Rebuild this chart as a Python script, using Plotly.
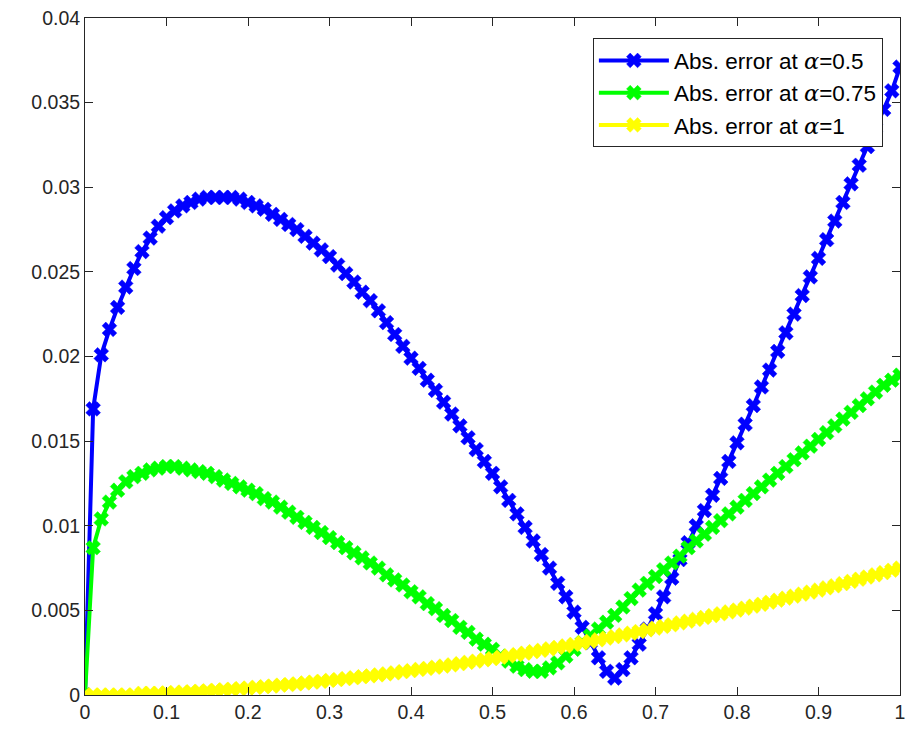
import plotly.graph_objects as go

x_vals = [round(i * 0.01, 2) for i in range(101)]

err_alpha_050 = [
    0.0, 0.0169, 0.0201, 0.0216, 0.0229, 0.0241, 0.0252, 0.0262, 0.0270, 0.0277,
    0.0282, 0.0286, 0.0289, 0.0291, 0.0293, 0.0294, 0.0294, 0.0294, 0.0294, 0.0293,
    0.0291, 0.0289, 0.0287, 0.0284, 0.0281, 0.0278, 0.0275, 0.0271, 0.0267, 0.0263,
    0.0259, 0.0254, 0.0249, 0.0244, 0.0238, 0.0233, 0.0227, 0.0220, 0.0213, 0.0206,
    0.0199, 0.0193, 0.0186, 0.0180, 0.0173, 0.0166, 0.0159, 0.0152, 0.0145, 0.0138,
    0.0131, 0.0123, 0.0115, 0.0107, 0.0099, 0.0091, 0.0083, 0.0075, 0.0066, 0.0058,
    0.0049, 0.0040, 0.0031, 0.0022, 0.0014, 0.0010, 0.0015, 0.0022, 0.0030, 0.0039,
    0.0048, 0.0058, 0.0069, 0.0080, 0.0090, 0.0100, 0.0109, 0.0118, 0.0128, 0.0138,
    0.0149, 0.0160, 0.0171, 0.0182, 0.0192, 0.0203, 0.0214, 0.0225, 0.0236, 0.0247,
    0.0258, 0.0269, 0.0280, 0.0291, 0.0302, 0.0313, 0.0324, 0.0335, 0.0346, 0.0357,
    0.0371,
]

err_alpha_075 = [
    0.0, 0.0087, 0.0104, 0.0114, 0.0121, 0.0126, 0.0129, 0.0131, 0.0133, 0.0134,
    0.0135, 0.0135, 0.0134, 0.0133, 0.0132, 0.0131, 0.0129, 0.0127, 0.0125, 0.0123,
    0.0121, 0.0119, 0.0116, 0.0114, 0.0111, 0.0108, 0.0105, 0.0102, 0.0099, 0.0096,
    0.0093, 0.0090, 0.0087, 0.0084, 0.0081, 0.0078, 0.0075, 0.0071, 0.0068, 0.0065,
    0.0061, 0.0058, 0.0054, 0.0051, 0.0047, 0.0044, 0.0040, 0.0037, 0.0033, 0.0030,
    0.0027, 0.0023, 0.0020, 0.0017, 0.0015, 0.0014, 0.0014, 0.0016, 0.0019, 0.0023,
    0.0027, 0.0031, 0.0035, 0.0039, 0.0043, 0.0047, 0.0052, 0.0057, 0.0062, 0.0066,
    0.0070, 0.0074, 0.0078, 0.0082, 0.0087, 0.0091, 0.0095, 0.0099, 0.0103, 0.0107,
    0.0111, 0.0115, 0.0119, 0.0123, 0.0127, 0.0131, 0.0135, 0.0139, 0.0143, 0.0147,
    0.0151, 0.0155, 0.0159, 0.0163, 0.0167, 0.0171, 0.0175, 0.0179, 0.0183, 0.0186,
    0.0189,
]

err_alpha_100 = [
    0.0, 0.0000, 0.0000, 0.0000, 0.0000, 0.0000, 0.0000, 0.0001, 0.0001, 0.0001,
    0.00012, 0.00014, 0.00017, 0.00019, 0.00022, 0.00025, 0.00028, 0.00031, 0.00034, 0.00038,
    0.00041, 0.00045, 0.00049, 0.00053, 0.00058, 0.00062, 0.00066, 0.00071, 0.00076, 0.00081,
    0.00086, 0.00091, 0.00097, 0.00102, 0.00108, 0.00113, 0.00119, 0.00125, 0.00131, 0.00138,
    0.00144, 0.00151, 0.00157, 0.00164, 0.00171, 0.00178, 0.00185, 0.00193, 0.00200, 0.00208,
    0.00215, 0.00223, 0.00231, 0.00239, 0.00247, 0.00256, 0.00264, 0.00273, 0.00281, 0.00290,
    0.00299, 0.00308, 0.00317, 0.00326, 0.00336, 0.00345, 0.00355, 0.00365, 0.00375, 0.00385,
    0.00395, 0.00405, 0.00415, 0.00426, 0.00436, 0.00447, 0.00458, 0.00469, 0.00480, 0.00491,
    0.00502, 0.00513, 0.00525, 0.00536, 0.00548, 0.00560, 0.00572, 0.00584, 0.00596, 0.00608,
    0.00620, 0.00633, 0.00645, 0.00658, 0.00671, 0.00684, 0.00697, 0.00710, 0.00723, 0.00737,
    0.0075,
]

series_names = [
    "Abs. error at <span style='font-family:DejaVu Serif'><i>α</i></span>=0.5",
    "Abs. error at <span style='font-family:DejaVu Serif'><i>α</i></span>=0.75",
    "Abs. error at <span style='font-family:DejaVu Serif'><i>α</i></span>=1",
]
series_colors = ["#0000FF", "#00FF00", "#FFFF00"]
series_values = [err_alpha_050, err_alpha_075, err_alpha_100]

x_tick_vals = [0, 0.1, 0.2, 0.3, 0.4, 0.5, 0.6, 0.7, 0.8, 0.9, 1]
x_tick_text = ["0", "0.1", "0.2", "0.3", "0.4", "0.5", "0.6", "0.7", "0.8", "0.9", "1"]
y_tick_vals = [0, 0.005, 0.01, 0.015, 0.02, 0.025, 0.03, 0.035, 0.04]
y_tick_text = ["0", "0.005", "0.01", "0.015", "0.02", "0.025", "0.03", "0.035", "0.04"]

fig = go.Figure()
for name, col, vals in zip(series_names, series_colors, series_values):
    fig.add_trace(go.Scatter(
        x=x_vals, y=vals, name=name, mode="lines+markers",
        line=dict(color=col, width=4),
        marker=dict(symbol="x", size=13, color=col, line=dict(width=0.5, color=col)),
    ))

axis_common = dict(
    showline=True, linecolor="#262626", linewidth=1, mirror="ticks",
    ticks="inside", ticklen=8, tickwidth=1, tickcolor="#262626",
    showgrid=False, zeroline=False,
    tickfont=dict(family="Liberation Sans, Arial, sans-serif", size=19.5, color="#262626"),
)

fig.update_layout(
    width=911, height=735,
    margin=dict(l=85, r=6, t=18, b=40),
    paper_bgcolor="white", plot_bgcolor="white",
    xaxis=dict(range=[0, 1], tickvals=x_tick_vals, ticktext=x_tick_text, **axis_common),
    yaxis=dict(range=[0, 0.04], tickvals=y_tick_vals, ticktext=y_tick_text, **axis_common),
    legend=dict(
        x=0.979, y=0.97, xanchor="right", yanchor="top",
        bgcolor="white", bordercolor="#262626", borderwidth=1,
        font=dict(family="Liberation Sans, Arial, sans-serif", size=22.5, color="#000000"),
        itemwidth=70, tracegroupgap=0,
    ),
    showlegend=True,
)

fig.write_html("out.html")
